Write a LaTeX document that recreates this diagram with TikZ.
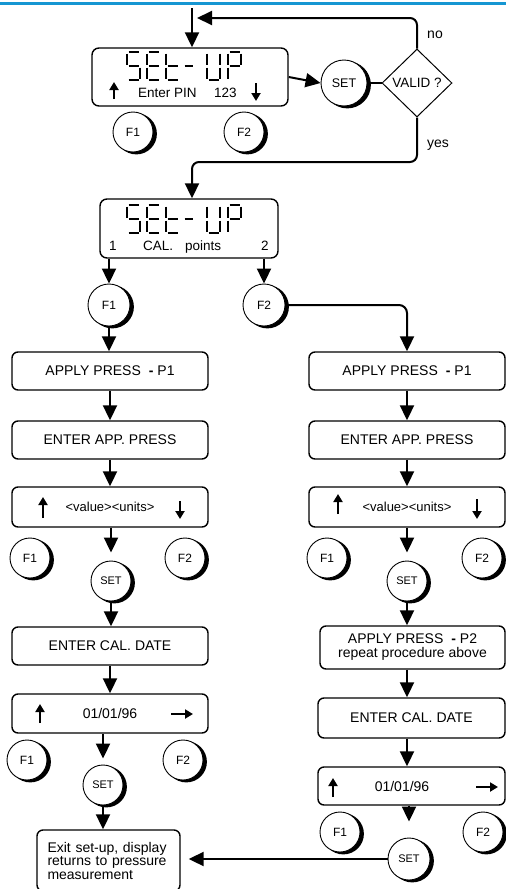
\documentclass[tikz,border=0pt]{standalone}
\usepackage{fontspec}
\setmainfont{Liberation Sans}
\usepackage{tikz}
\usetikzlibrary{positioning,shapes.geometric,arrows.meta}

\definecolor{topline}{RGB}{22,150,210}

% knob with its dark rim: size, name, position, text
\newcommand\knob[4][40]{%
	\fill[black] ([shift={(3.3pt,-1.8pt)}]#3) circle[radius=#1pt/2+0.6pt];
	\node[knob, minimum size=#1pt] (#2) at (#3) {#4};
}

\tikzset{
	box/.style={draw, line width=1.4pt, rounded corners=6pt, minimum height=38pt, align=center, font=\fontsize{14}{15}\selectfont},
	lcd/.style={draw, line width=1.4pt, rounded corners=7pt},
	knob/.style={circle, draw, line width=0.9pt, fill=white, inner sep=0pt, font=\fontsize{12}{12}\selectfont},
	flow/.style={line width=2pt, -{Triangle[length=15pt, width=14pt]}},
	key/.style={line width=2pt, -{Triangle[length=8pt, width=9pt]}},
	seg/.style={line width=2pt},
	txt/.style={inner sep=0pt, anchor=base west, font=\fontsize{13.5}{14}\selectfont},
	setup/.pic={
		% S E t - U P
		\draw[seg] (1.5,0) -- (11.5,0) (0,1.5) -- (0,12.5) (1.5,14) -- (11.5,14) (13,15.5) -- (13,26.5) (1.5,28) -- (11.5,28);
		\draw[seg, xshift=20] (1.5,0) -- (11.5,0) (0,1.5) -- (0,12.5) (1.5,14) -- (11.5,14) (0,15.5) -- (0,26.5) (1.5,28) -- (11.5,28);
		\draw[seg, xshift=39] (0,1.5) -- (0,12.5) (0,15.5) -- (0,26.5) (1.5,14) -- (11.5,14) (1.5,28) -- (11.5,28);
		\draw[seg, xshift=56] (1.5,14) -- (10,14);
		\draw[seg, xshift=80] (0,1.5) -- (0,12.5) (0,15.5) -- (0,26.5) (1.5,28) -- (11.5,28) (13,15.5) -- (13,26.5) (13,1.5) -- (13,12.5);
		\draw[seg, xshift=101] (1.5,0) -- (11.5,0) (13,1.5) -- (13,12.5) (0,1.5) -- (0,12.5) (1.5,14) -- (11.5,14) (0,15.5) -- (0,26.5);
	}
}

\begin{document}
\begin{tikzpicture}[x=1pt, y=-1pt]
	\useasboundingbox (0,0) rectangle (506,889);
	\draw[topline, line width=3pt] (0,3.5) -- (506,3.5);

	% Displays:
	\node[lcd, minimum width=196pt, minimum height=58pt] (pin) at (190,77) {};
	\pic at (127,52) {setup};
	\node[txt] (pintext) at (138,97) {Enter PIN};
	\node[txt] (pincode) at (214,97) {123};
	\draw[key] (114,99) -- (114,82);
	\draw[key] (256,83) -- (256,101);

	\node[lcd, minimum width=178pt, minimum height=59pt] (cal) at (189,228.5) {};
	\pic at (127,205) {setup};
	\node[txt] (calone) at (109,250) {1};
	\node[txt] (caltext) at (143,250) {CAL.\hspace{12pt}points};
	\node[txt] (caltwo) at (261,250) {2};

	% Keys:
	\knob{f1a}{133,132}{F1}
	\knob{f2a}{244,132}{F2}
	\knob[46]{set1}{344,83}{\fontsize{12.5}{12}\selectfont SET}
	\node[draw, diamond, line width=1pt, minimum width=70pt, minimum height=68pt, inner sep=0pt, font=\fontsize{13.5}{14}\selectfont] (valid) at (417,83) {VALID ?};

	\knob[42]{f1b}{109,305}{F1}
	\knob[42]{f2b}{264,305}{F2}

	% Left branch:
	\node[box, minimum width=196pt] (l1) at (110,371) {APPLY PRESS\hspace{8pt}{\bfseries -} P1};
	\node[box, minimum width=196pt] (l2) at (110,440) {ENTER APP. PRESS};
	\node[box, minimum width=196pt, minimum height=40pt, font=\fontsize{13}{14}\selectfont] (l3) at (110,507) {<value><units>};
	\knob{f1c}{30,558}{F1}
	\knob{f2c}{185,558}{F2}
	\knob{setc}{111,581}{\fontsize{11}{11}\selectfont SET}
	\node[box, minimum width=196pt] (l4) at (110,646) {ENTER CAL. DATE};
	\node[box, minimum width=196pt, minimum height=39pt] (l5) at (110,713.5) {01/01/96};
	\knob{f1d}{27,760}{F1}
	\knob{f2d}{183,760}{F2}
	\knob{setd}{103,785}{\fontsize{11}{11}\selectfont SET}
	\node[box, minimum width=143pt, minimum height=61pt, text width=122pt, align=left, font=\fontsize{14}{13.5}\selectfont] (exit) at (108.5,860.5) {Exit set-up, display\\returns to pressure\\measurement};

	\draw[key] (43,518) -- (43,497);
	\draw[key] (180,501) -- (180,519);
	\draw[key] (40,723) -- (40,704);
	\draw[key] (171,714) -- (193,714);

	% Right branch:
	\node[box, minimum width=196pt] (r1) at (407,371) {APPLY PRESS\hspace{8pt}{\bfseries -} P1};
	\node[box, minimum width=196pt] (r2) at (407,440) {ENTER APP. PRESS};
	\node[box, minimum width=196pt, minimum height=40pt, font=\fontsize{13}{14}\selectfont] (r3) at (407,507) {<value><units>};
	\knob{f1e}{327,558}{F1}
	\knob{f2e}{482,558}{F2}
	\knob{sete}{407,581}{\fontsize{11}{11}\selectfont SET}
	\node[box, minimum width=185pt, minimum height=43pt, font=\fontsize{14}{14}\selectfont] (r4) at (412.5,647.5) {APPLY PRESS\hspace{8pt}{\bfseries -} P2\\repeat procedure above};
	\node[box, minimum width=187pt, minimum height=40pt] (r5) at (411.5,718) {ENTER CAL. DATE};
	\node[box, minimum width=187pt, minimum height=38pt] (r6) at (411.5,786) {};
	\node[font=\fontsize{14}{14}\selectfont] (rdate) at (402,786) {01/01/96};
	\knob{f1f}{340,832}{F1}
	\knob{f2f}{483,832}{F2}
	\knob[42]{setf}{409,859}{\fontsize{11}{11}\selectfont SET}

	\draw[key] (338,514) -- (338,494);
	\draw[key] (477,499) -- (477,519);
	\draw[key] (333,797) -- (333,778);
	\draw[key] (476,787) -- (498,787);

	% Lines:
	\coordinate (entry) at (192,8);
	\coordinate (back) at (197,18);
	\coordinate (yes) at (192,162);
	\draw[flow] (entry) -- (entry |- pin.north);
	\draw[flow] (pin.east) -- (set1.west);
	\draw[line width=2pt] (set1.east) -- (valid.west);
	\draw[flow, rounded corners=7pt] (valid.north) |- (back);
	\draw[flow, rounded corners=7pt] (valid.south) |- (yes) -- (yes |- cal.north);

	\draw[flow] (f1b |- cal.south) -- (f1b.north);
	\draw[flow] (f2b |- cal.south) -- (f2b.north);
	\draw[flow] (f1b.south) -- (f1b.south |- l1.north);
	\draw[flow, rounded corners=8pt] (f2b.east) -| (r1.north);

	\draw[flow] (l1) -- (l2);
	\draw[flow] (l2) -- (l3);
	\draw[flow, shorten >=8pt] (setc |- l3.south) -- (setc.north);
	\draw[flow] (setc) -- (setc |- l4.north);
	\draw[flow] (l4) -- (l5);
	\draw[flow, shorten >=6pt] (setd |- l5.south) -- (setd.north);
	\draw[flow] (setd) -- (setd |- exit.north);

	\draw[flow] (r1) -- (r2);
	\draw[flow] (r2) -- (r3);
	\draw[flow, shorten >=8pt] (sete |- r3.south) -- (sete.north);
	\draw[flow] (sete) -- (sete |- r4.north);
	\draw[flow] (sete |- r4.south) -- (sete |- r5.north);
	\draw[flow] (sete |- r5.south) -- (sete |- r6.north);
	\draw[flow, shorten >=16pt] (setf |- r6.south) -- (setf.north);
	\draw[flow, shorten >=8pt] (setf.west) -- (setf.west -| exit.east);

	% Labels:
	\node[font=\fontsize{14}{14}\selectfont] (nolabel) at (435,35) {no};
	\node[font=\fontsize{14}{14}\selectfont] (yeslabel) at (438,145) {yes};
\end{tikzpicture}
\end{document}
